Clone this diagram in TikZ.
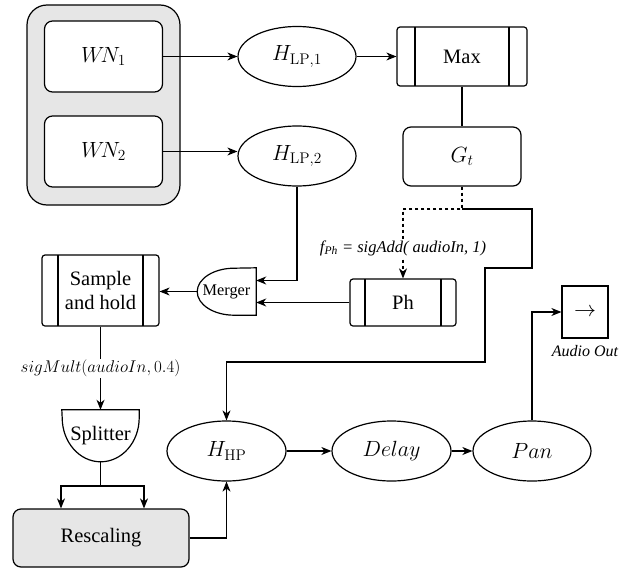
\RequirePackage{fix-cm}
\documentclass[tikz,border=0pt]{standalone}
\usepackage[no-math]{fontspec}
\setmainfont{Liberation Serif}
\usepackage{amsmath}
\usetikzlibrary{calc,shapes.geometric,arrows.meta}
\definecolor{panel}{HTML}{E6E6E6}
\tikzset{
  wire/.style={line width=1.2pt},
  arr/.style={wire, -{Stealth[length=10pt,width=8pt,inset=3pt]}},
  mathfont/.style={font=\fontsize{22}{26}\selectfont},
  txtfont/.style={font=\fontsize{20.5}{24}\selectfont},
  blk/.style={draw, wire, rounded corners=8pt, fill=white, inner sep=0pt, mathfont},
  flt/.style={draw, wire, ellipse, inner sep=0pt, minimum width=118pt, minimum height=60pt, mathfont},
  proc/.style={draw, wire, rounded corners=3pt, inner sep=0pt, align=center, txtfont,
    path picture={\draw[wire] ([xshift=#1]path picture bounding box.north west) -- ([xshift=#1]path picture bounding box.south west)
      ([xshift=-#1]path picture bounding box.north east) -- ([xshift=-#1]path picture bounding box.south east);}},
  proc/.default=16pt,
  shp/.style={inner sep=0pt, txtfont},
  lbl/.style={fill=white, inner sep=1pt}
}

\begin{document}
\begin{tikzpicture}[x=1pt, y=-1pt]
\useasboundingbox (0,0) rectangle (631,570);

\node[draw, wire, fill=panel, rounded corners=20pt, minimum width=153pt, minimum height=200pt] (wn) at (103.5,105) {};
\node[blk, minimum width=118pt, minimum height=71pt] (wn1) at (103.5,56.5) {$W\!N_1$};
\node[blk, minimum width=118pt, minimum height=71pt] (wn2) at (103.5,151.5) {$W\!N_2$};

\node[flt] (hlp1) at (297,56.5) {$H_{\mathrm{LP},1}$};
\node[flt] (hlp2) at (297,156) {$H_{\mathrm{LP},2}$};
\node[proc=18pt, minimum width=130pt, minimum height=59pt] (max) at (462,56.5) {Max};
\node[blk, minimum width=118pt, minimum height=59pt] (gt) at (462,156.5) {$G_t$};
\coordinate (gtdrop) at (462,209);

\node[proc=15pt, minimum width=106pt, minimum height=47pt] (ph) at (403,302.5) {Ph};
\node[shp, minimum width=59pt, minimum height=47pt, font=\fontsize{16.3}{19}\selectfont] (merger) at (226.5,291.5) {Merger};
\node[proc, minimum width=117pt, minimum height=71pt] (sh) at (100.5,290.5) {Sample\\and hold};
\node[shp, minimum width=77pt, minimum height=52pt] (split) at (100.5,436) {Splitter};
\coordinate (fork) at (100.5,486);
\node[blk, fill=panel, txtfont, minimum width=176pt, minimum height=58pt] (resc) at (101,538) {Rescaling};

\node[flt, minimum width=119pt] (hhp) at (226.5,451) {$H_{\mathrm{HP}}$};
\node[flt, minimum width=119pt] (delay) at (391.5,451) {$Delay$};
\node[flt] (pan) at (532,451) {$Pan$};
\node[draw, wire, minimum width=46pt, minimum height=52pt, mathfont] (aout) at (585,312) {$\rightarrow$};
\node[font=\itshape\fontsize{16}{19}\selectfont, below=3pt] (aoutlbl) at (aout.south) {Audio Out};

\draw[wire] (merger.north east) -- (merger.south east) -- ([xshift=-22pt]merger.south east)
  arc[start angle=270, end angle=90, x radius=37pt, y radius=23.5pt] -- cycle;
\draw[wire] (split.north west) -- (split.north east) -- ([yshift=-8pt]split.north east)
  arc[start angle=0, end angle=-180, x radius=38.5pt, y radius=44pt] -- cycle;

\draw[arr] (wn1) -- (hlp1);
\draw[arr] (wn2.east) -- (wn2.east -| hlp2.west);
\draw[arr] (hlp1) -- (max);
\draw[wire] (max) -- (gt);
\draw[arr, dash pattern=on 3pt off 3pt] (gt.south) -- (gtdrop) -| (ph.north);
\node[lbl, font=\itshape\fontsize{16.5}{19}\selectfont] (fph) at (403,248) {f\textsubscript{Ph} = sigAdd( audioIn, 1)};
\draw[arr] (gtdrop) -| (532,268) -| (485,362) -| (hhp.north);
\draw[arr] (hlp2.south) |- ([yshift=11pt]merger.east);
\draw[arr] (ph.west) -- ([yshift=-11pt]merger.east);
\draw[arr] (merger.west) -- (merger.west -| sh.east);
\draw[arr] (sh.south) -- node[lbl, font=\fontsize{17}{20}\selectfont] (mult) {$sigMult(audioIn, 0.4)$} (split.north);
\draw[wire] (split.south) -- (fork);
\draw[arr] (fork) -| ([xshift=-40pt]resc.north);
\draw[arr] (fork) -| ([xshift=43pt]resc.north);
\draw[arr] (resc.east) -| (hhp.south);
\draw[arr] (hhp) -- (delay);
\draw[arr] (delay) -- (pan);
\draw[arr] (pan.north) |- (aout.west);
\end{tikzpicture}
\end{document}
